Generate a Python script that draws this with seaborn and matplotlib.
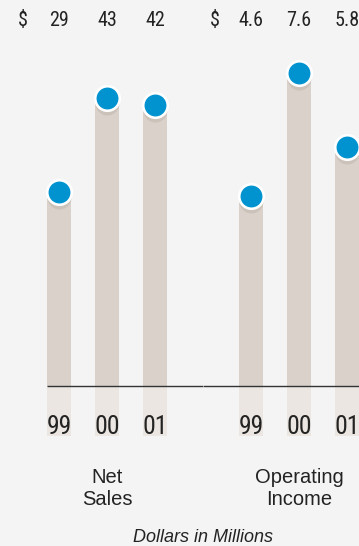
import matplotlib
matplotlib.use("Agg")
import matplotlib.pyplot as plt
import matplotlib.transforms as mtransforms
import pandas as pd
import seaborn as sns

# ---- data -------------------------------------------------------------
years = ["99", "00", "01"]
net_sales = [29, 43, 42]
operating_income = [4.6, 7.6, 5.8]
net_sales_labels = ["29", "43", "42"]
operating_income_labels = ["4.6", "7.6", "5.8"]
group_titles = ["Net\nSales", "Operating\nIncome"]
footnote = "Dollars in Millions"

# ---- style ------------------------------------------------------------
BG = "#f4f4f4"
BAR = "#d9d1ca"
BAR_LOW = "#ebe6e1"
SHADOW = "#cbc2b9"
DOT = "#0093d0"
INK = "#232323"
NUM_FONT = ["Roboto Condensed", "Liberation Sans", "DejaVu Sans"]
TXT_FONT = ["Liberation Sans", "DejaVu Sans"]

sns.set_theme(style="white")
plt.rcParams["font.family"] = TXT_FONT

W, H, DPI = 359, 546, 100
fig = plt.figure(figsize=(W / DPI, H / DPI), dpi=DPI, facecolor=BG)

# pixel layout of the panels
AX_TOP, AX_BOTTOM, BASE = 40, 436, 386
STEP = 48          # px between neighbouring bars
DOT_PX = 24.5      # marker diameter in px
PT = 72 / DPI      # points per pixel


def px_axes(left, right, top, bottom):
    return fig.add_axes([left / W, 1 - bottom / H, (right - left) / W, (bottom - top) / H])


panels = [
    dict(values=net_sales, labels=net_sales_labels, title=group_titles[0],
         first_bar_px=59, px_per_unit=6.69, line_from=-0.25),
    dict(values=operating_income, labels=operating_income_labels, title=group_titles[1],
         first_bar_px=251, px_per_unit=41.2, line_from=-1.0),
]

for p in panels:
    x0 = p["first_bar_px"]
    ax = px_axes(x0 - STEP, x0 + 3 * STEP, AX_TOP, AX_BOTTOM)
    ax.set_facecolor("none")
    ppu = p["px_per_unit"]
    ymin = -(AX_BOTTOM - BASE) / ppu
    ymax = (BASE - AX_TOP) / ppu

    df = pd.DataFrame({"year": years, "value": p["values"]})
    pos = list(range(len(years)))

    # columns running under the year labels
    ax.bar(pos, ymin, width=0.5, color=BAR_LOW, linewidth=0, zorder=1)
    # value columns
    sns.barplot(data=df, x="year", y="value", order=years, color=BAR,
                saturation=1, width=0.5, errorbar=None, linewidth=0, ax=ax, zorder=2)

    # soft shadow beneath each dot
    shadow_tr = mtransforms.offset_copy(ax.transData, fig=fig, x=0, y=-5, units="dots")
    ax.plot(pos, p["values"], "o", ms=24 * PT, mfc=SHADOW, mec="none",
            transform=shadow_tr, zorder=3, clip_on=False)
    # value dots
    ax.plot(pos, p["values"], "o", ms=DOT_PX * PT, mfc=DOT, mec="white",
            mew=2.6 * PT, zorder=4, clip_on=False)

    # baseline
    ax.hlines(0, p["line_from"], 3, color="#333333", lw=1.0, zorder=5)

    ax.set_xlim(-1, 3)
    ax.set_ylim(ymin, ymax)
    ax.set_axis_off()

    fig_y = mtransforms.blended_transform_factory(ax.transData, fig.transFigure)
    for i, (yr, lab) in enumerate(zip(years, p["labels"])):
        ax.text(i, 1 - 427 / H, yr, transform=fig_y, ha="center", va="center",
                fontsize=18.5, family=NUM_FONT, color=INK, zorder=6)
        ax.text(i, 1 - 20 / H, lab, transform=fig_y, ha="center", va="center",
                fontsize=14.5, family=NUM_FONT, color=INK)
    ax.text(-0.75, 1 - 20 / H, "$", transform=fig_y, ha="center", va="center",
            fontsize=14.5, family=NUM_FONT, color=INK)
    ax.text(1, 1 - 488.5 / H, p["title"], transform=fig_y, ha="center", va="center",
            fontsize=14.5, family=TXT_FONT, color=INK, linespacing=1.15)

fig.text(203 / W, 1 - 538 / H, footnote, ha="center", va="center",
         fontsize=13, style="italic", family=TXT_FONT, color=INK)

fig.savefig("out.png", dpi=DPI, facecolor=BG)
